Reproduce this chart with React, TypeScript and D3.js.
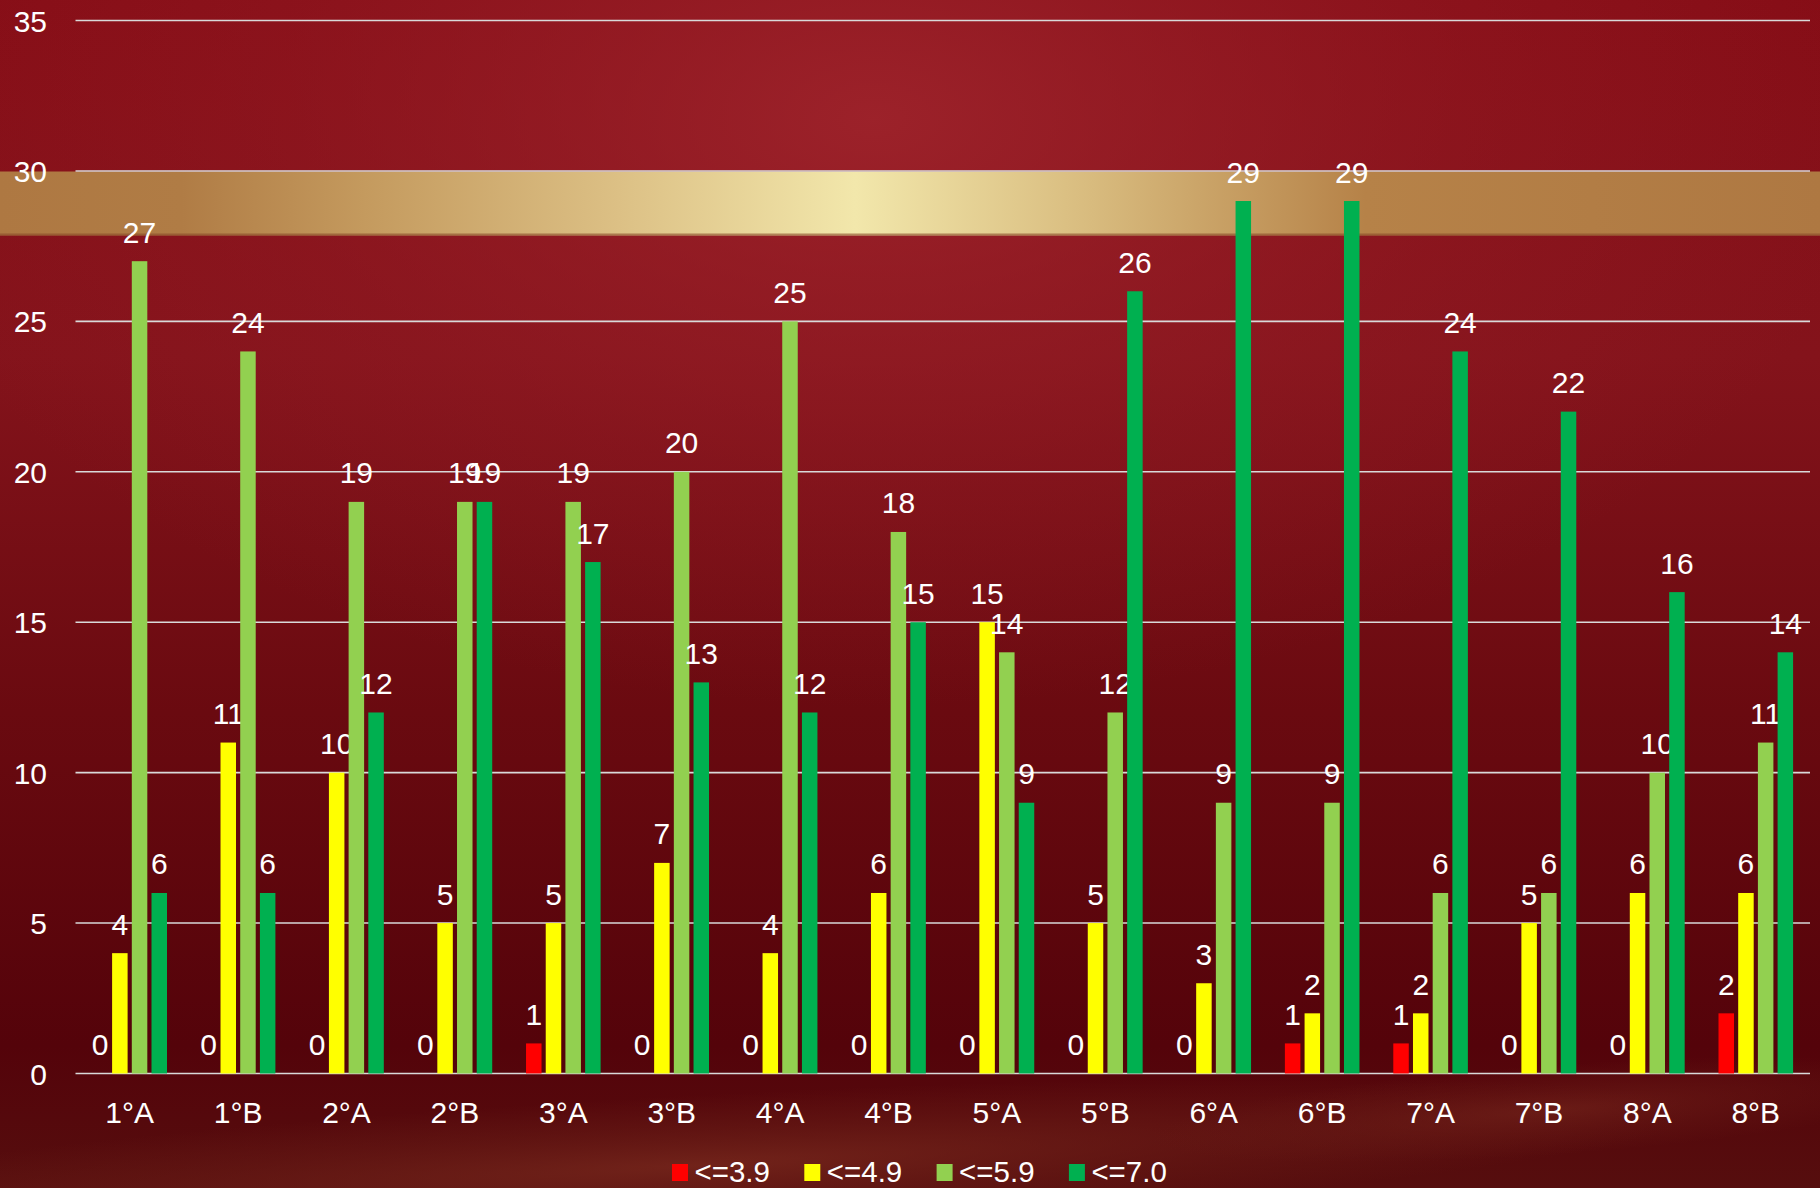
import React from 'react';
import * as d3 from 'd3';

const categories = ['1°A', '1°B', '2°A', '2°B', '3°A', '3°B', '4°A', '4°B', '5°A', '5°B', '6°A', '6°B', '7°A', '7°B', '8°A', '8°B'];
const seriesNames = ['<=3.9', '<=4.9', '<=5.9', '<=7.0'];
const seriesColors = ['#ff0000', '#ffff00', '#92d050', '#00b050'];
const red = [0, 0, 0, 0, 1, 0, 0, 0, 0, 0, 0, 1, 1, 0, 0, 2];
const yellow = [4, 11, 10, 5, 5, 7, 4, 6, 15, 5, 3, 2, 2, 5, 6, 6];
const lightGreen = [27, 24, 19, 19, 19, 20, 25, 18, 14, 12, 9, 9, 6, 6, 10, 11];
const darkGreen = [6, 6, 12, 19, 17, 13, 12, 15, 9, 26, 29, 29, 24, 22, 16, 14];
const yTicks = [0, 5, 10, 15, 20, 25, 30, 35];

const W = 1820;
const H = 1188;
const M = { left: 75.5, right: 1810, top: 20.5, bottom: 1073.5 };
const FONT = '"Liberation Sans", Arial, sans-serif';

export default function App() {
  const series = [red, yellow, lightGreen, darkGreen];
  const x = d3.scaleBand<string>().domain(categories).range([M.left, M.right]).padding(0);
  const y = d3.scaleLinear().domain([0, 35]).range([M.bottom, M.top]);
  const bw = x.bandwidth();
  const step = bw * 0.1817;
  const barW = bw * 0.143;
  const sub = d3.scaleLinear().domain([0, 3]).range([-1.5 * step, 1.5 * step]);

  return (
    <svg width={W} height={H} style={{ position: 'absolute', left: 0, top: 0, display: 'block' }} fontFamily={FONT}>
      <defs>
        <linearGradient id="bgV" x1="0" y1="0" x2="0" y2="1">
          <stop offset="0" stopColor="#860d16" />
          <stop offset="0.3" stopColor="#84131b" />
          <stop offset="0.6" stopColor="#6a0a10" />
          <stop offset="0.88" stopColor="#54030a" />
          <stop offset="1" stopColor="#560e0e" />
        </linearGradient>
        <radialGradient id="bgR" cx="0.48" cy="0.1" r="0.55" gradientTransform="translate(0.48,0.1) scale(1,0.9) translate(-0.48,-0.1)">
          <stop offset="0" stopColor="#a0252d" stopOpacity="0.85" />
          <stop offset="0.6" stopColor="#981f28" stopOpacity="0.3" />
          <stop offset="1" stopColor="#981f28" stopOpacity="0" />
        </radialGradient>
        <radialGradient id="streak" cx="0.5" cy="0.5" r="0.5">
          <stop offset="0" stopColor="#7a2a1e" stopOpacity="0.75" />
          <stop offset="0.6" stopColor="#6e2018" stopOpacity="0.35" />
          <stop offset="1" stopColor="#6e2018" stopOpacity="0" />
        </radialGradient>
        <linearGradient id="gold" x1="0" y1="0" x2="1" y2="0">
          <stop offset="0" stopColor="#ae7842" />
          <stop offset="0.1" stopColor="#b07c45" />
          <stop offset="0.2" stopColor="#c49a5e" />
          <stop offset="0.34" stopColor="#dcc085" />
          <stop offset="0.47" stopColor="#f2e7ab" />
          <stop offset="0.6" stopColor="#d8bb7e" />
          <stop offset="0.75" stopColor="#b68248" />
          <stop offset="1" stopColor="#ae7842" />
        </linearGradient>
      </defs>
      <rect x={0} y={0} width={W} height={H} fill="url(#bgV)" />
      <rect x={0} y={0} width={W} height={H} fill="url(#bgR)" />
      <ellipse cx={700} cy={1165} rx={1000} ry={70} transform="rotate(-3 700 1165)" fill="url(#streak)" />
      <ellipse cx={1550} cy={1110} rx={400} ry={45} transform="rotate(-4 1550 1110)" fill="url(#streak)" opacity={0.7} />
      <rect x={0} y={171.5} width={W} height={64} fill="url(#gold)" />
      <rect x={0} y={233.5} width={W} height={2} fill="#8a4a2a" opacity={0.6} />

      {yTicks.map((t) => (
        <g key={t}>
          <line x1={M.left} x2={M.right} y1={y(t)} y2={y(t)} stroke="#d9d9d9" strokeWidth={1.6} />
          <text x={47} y={y(t) + 11} textAnchor="end" fill="#ffffff" fontSize={30}>{t}</text>
        </g>
      ))}

      {categories.map((c, ci) => {
        const cx = (x(c) as number) + bw / 2;
        return (
          <g key={c}>
            {series.map((s, si) => {
              const v = s[ci];
              const bx = cx + sub(si);
              return (
                <g key={si}>
                  {v > 0 && (
                    <rect x={bx - barW / 2} y={y(v)} width={barW} height={y(0) - y(v)} fill={seriesColors[si]} />
                  )}
                  <text x={bx} y={y(v) - 18.5} textAnchor="middle" fill="#ffffff" fontSize={30}>{v}</text>
                </g>
              );
            })}
            <text x={cx} y={1123} textAnchor="middle" fill="#ffffff" fontSize={30}>{c}</text>
          </g>
        );
      })}

      {seriesNames.map((n, i) => {
        const lx = 672 + i * 132.3;
        return (
          <g key={n}>
            <rect x={lx} y={1164} width={16} height={17} fill={seriesColors[i]} />
            <text x={lx + 22.5} y={1181.5} fill="#ffffff" fontSize={29.5}>{n}</text>
          </g>
        );
      })}
    </svg>
  );
}
